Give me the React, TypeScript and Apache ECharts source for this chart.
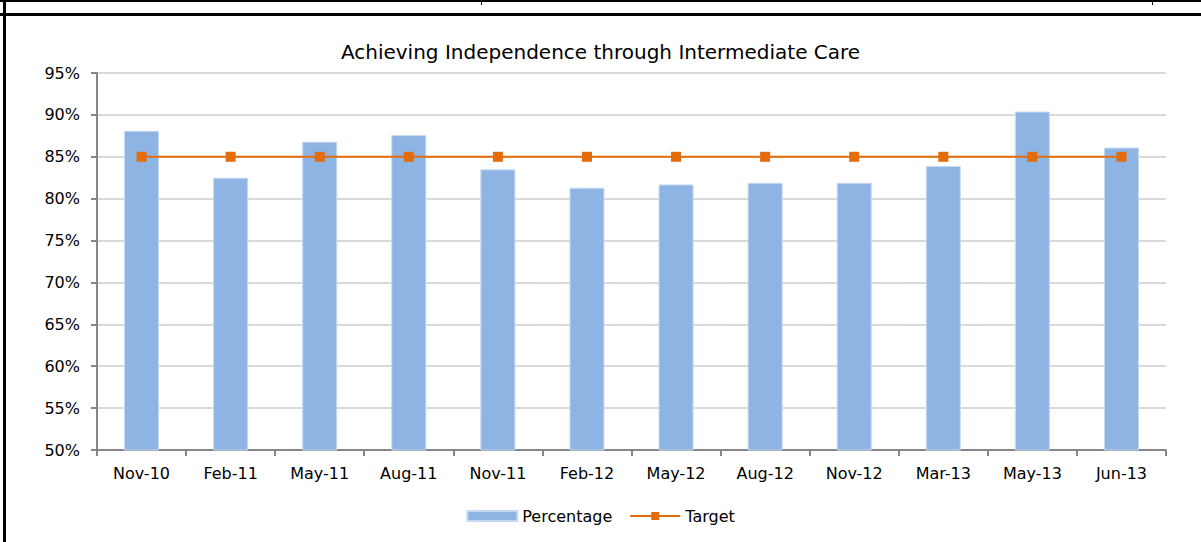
import React, { useEffect, useRef } from "react";
import * as echarts from "echarts";

const categories = ["Nov-10", "Feb-11", "May-11", "Aug-11", "Nov-11", "Feb-12", "May-12", "Aug-12", "Nov-12", "Mar-13", "May-13", "Jun-13"];
const percentage = [88.1, 82.5, 86.8, 87.6, 83.5, 81.3, 81.7, 81.9, 81.9, 83.9, 90.4, 86.1];
const target = [85, 85, 85, 85, 85, 85, 85, 85, 85, 85, 85, 85];
const yTicks = { min: 50, max: 95, interval: 5 };

const FONT = "DejaVu Sans";

export default function App() {
  const ref = useRef<HTMLDivElement>(null);
  useEffect(() => {
    if (!ref.current) return;
    const chart = echarts.init(ref.current, null, { renderer: "svg" });
    chart.setOption({
      animation: false,
      backgroundColor: "#ffffff",
      title: {
        text: "Achieving Independence through Intermediate Care",
        left: "center",
        top: 37,
        textStyle: { fontFamily: FONT, fontSize: 20, fontWeight: "normal", color: "#000000" },
      },
      grid: { left: 97, right: 35, top: 73, bottom: 92 },
      legend: {
        bottom: 13,
        left: "center",
        itemWidth: 50,
        itemHeight: 10,
        itemGap: 17,
        textStyle: { fontFamily: FONT, fontSize: 16, color: "#000000" },
        data: [
          { name: "Percentage", icon: "rect" },
          { name: "Target" },
        ],
      },
      xAxis: {
        type: "category",
        data: categories,
        axisLine: { lineStyle: { color: "#868686", width: 2 } },
        axisTick: { show: true, length: 6, lineStyle: { color: "#868686", width: 2 } },
        axisLabel: { fontFamily: FONT, fontSize: 16, color: "#000000", margin: 15 },
      },
      yAxis: {
        type: "value",
        min: yTicks.min,
        max: yTicks.max,
        interval: yTicks.interval,
        axisLine: { show: true, lineStyle: { color: "#868686", width: 2 } },
        axisTick: { show: true, length: 6, lineStyle: { color: "#868686", width: 2 } },
        axisLabel: {
          fontFamily: FONT,
          fontSize: 16,
          color: "#000000",
          margin: 17,
          formatter: (v: number) => `${v}%`,
        },
        splitLine: { lineStyle: { color: "#d9d9d9", width: 2 } },
      },
      series: [
        {
          name: "Percentage",
          type: "bar",
          data: percentage,
          barWidth: 35,
          itemStyle: { color: "#8EB4E3", borderColor: "#c6d9f1", borderWidth: 1 },
        },
        {
          name: "Target",
          type: "line",
          data: target,
          symbol: "rect",
          symbolSize: 10,
          lineStyle: { color: "#E46C0A", width: 2 },
          itemStyle: { color: "#E46C0A" },
        },
      ],
    });
    return () => chart.dispose();
  }, []);

  const line = (s: React.CSSProperties): React.CSSProperties => ({ position: "absolute", background: "#000", ...s });

  return (
    <div style={{ position: "fixed", left: 0, top: 0, width: 1201, height: 542, background: "#fff", overflow: "hidden" }}>
      <div ref={ref} style={{ position: "absolute", left: 0, top: 0, width: 1201, height: 542 }} />
      <div style={line({ left: 0, top: 0, width: 1201, height: 2 })} />
      <div style={line({ left: 0, top: 13, width: 1201, height: 3 })} />
      <div style={line({ left: 481, top: 0, width: 1, height: 5 })} />
      <div style={line({ left: 1152, top: 0, width: 1, height: 5 })} />
      <div style={line({ left: 3, top: 0, width: 3, height: 542 })} />
    </div>
  );
}
